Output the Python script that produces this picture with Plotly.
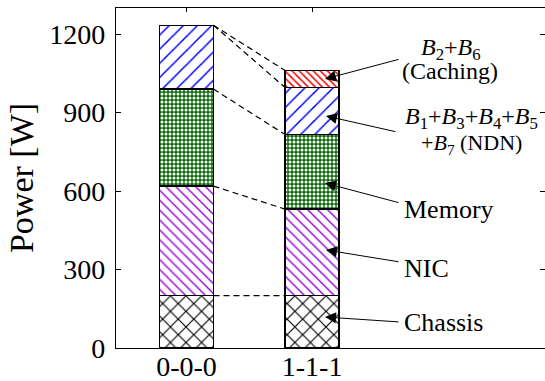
import plotly.graph_objects as go

categories = ["0-0-0", "1-1-1"]
chassis = [200, 200]
nic = [419, 331]
memory = [371, 285]
ndn = [244, 180]
caching = [None, 65]

y_ticks = [0, 300, 600, 900, 1200]

FONT = "Liberation Serif"
W = 0.43
xpos = [0, 1]

fig = go.Figure()

def add_bar(vals, shape, fg, bg, size, sol):
    fig.add_trace(go.Bar(
        x=xpos, y=vals, width=W,
        marker=dict(color=bg, line=dict(color="black", width=1.5),
                    pattern=dict(shape=shape, fgcolor=fg, bgcolor=bg, fgopacity=1,
                                 size=size, solidity=sol, fillmode="overlay")),
        showlegend=False, hoverinfo="skip"))

add_bar(chassis, "x", "black", "white", 11, 0.2)
add_bar(nic, "\\", "#9900dd", "white", 7, 0.2)
add_bar(memory, ".", "white", "#0a6a0a", 4, 0.45)
add_bar(ndn, "/", "#0000ff", "white", 10, 0.15)
add_bar(caching, "\\", "#ff0000", "white", 5, 0.3)

def cum(vals):
    out, s = [], 0
    for v in vals:
        s += (v or 0)
        out.append(s)
    return out

segs0 = [chassis[0], nic[0], memory[0], ndn[0]]
segs1 = [chassis[1], nic[1], memory[1], ndn[1], caching[1]]
c0 = cum(segs0)
c1 = cum(segs1)
pairs = [(c0[0], c1[0]), (c0[1], c1[1]), (c0[2], c1[2]), (c0[3], c1[3]), (c0[3], c1[4])]
for a, b in pairs:
    fig.add_trace(go.Scatter(x=[xpos[0] + W / 2, xpos[1] - W / 2], y=[a, b], mode="lines",
                             line=dict(color="black", width=1.2, dash="6px,4px"),
                             showlegend=False, hoverinfo="skip"))

fig.add_trace(go.Scatter(x=[None], y=[None], yaxis="y2", showlegend=False, hoverinfo="skip"))

px_per_x = 125.6
def xd(px):
    return (px - 186.5) / px_per_x
def yd(py):
    return (348 - py) / (340.0 / 1300)

arrows = [((325, 79), (400, 59)),
          ((326, 116), (397, 132)),
          ((325, 183), (400, 203)),
          ((326, 250), (400, 262)),
          ((325, 317), (400, 322))]
for (tx, ty), (ax, ay) in arrows:
    fig.add_annotation(x=xd(tx), y=yd(ty), ax=xd(ax), ay=yd(ay), xref="x", yref="y",
                       axref="x", ayref="y", text="", showarrow=True,
                       arrowhead=2, arrowsize=2.2, arrowwidth=1, arrowcolor="black")

def label(text, px, py, size, anchor="left"):
    fig.add_annotation(x=xd(px), y=yd(py), xref="x", yref="y", text=text, showarrow=False,
                       xanchor=anchor, yanchor="middle",
                       font=dict(family=FONT, size=size, color="black"))

label("<i>B</i><sub>2</sub>+<i>B</i><sub>6</sub>", 451, 49, 24, "center")
label("(Caching)", 450, 71, 24, "center")
label("<i>B</i><sub>1</sub>+<i>B</i><sub>3</sub>+<i>B</i><sub>4</sub>+<i>B</i><sub>5</sub>", 403, 118, 24, "left")
label("+<i>B</i><sub>7</sub> (NDN)", 471, 144, 22, "center")
label("Memory", 402, 209, 26)
label("NIC", 402, 268, 26)
label("Chassis", 402, 322, 26)

fig.update_layout(
    width=545, height=381,
    margin=dict(l=116, r=0, t=8, b=33, autoexpand=False),
    barmode="stack",
    plot_bgcolor="white", paper_bgcolor="white",
    font=dict(family=FONT, color="black"),
    xaxis=dict(range=[xd(116), xd(545)], tickmode="array", tickvals=xpos, ticktext=categories,
               ticks="inside", ticklen=4, tickcolor="black", showline=True, linecolor="black",
               linewidth=1.2, mirror="ticks", showgrid=False, zeroline=False, automargin=False,
               tickfont=dict(family=FONT, size=28), ticklabelstandoff=-7, layer="below traces"),
    yaxis=dict(range=[0, 1300], tickvals=y_ticks, ticks="inside", ticklen=5, tickcolor="black",
               showline=True, linecolor="black", linewidth=1.2, showgrid=False, zeroline=False,
               automargin=False, tickfont=dict(family=FONT, size=28), ticklabelstandoff=4,
               title=dict(text="Power [W]", font=dict(family=FONT, size=34), standoff=5)),
    yaxis2=dict(range=[0, 1300], tickvals=y_ticks, overlaying="y", side="right", ticks="inside",
                ticklen=5, tickcolor="black", showline=False, showticklabels=False,
                showgrid=False, zeroline=False, automargin=False),
)

fig.write_html("out.html", config={"displayModeBar": False},
               post_script="document.body.style.margin='0';")
